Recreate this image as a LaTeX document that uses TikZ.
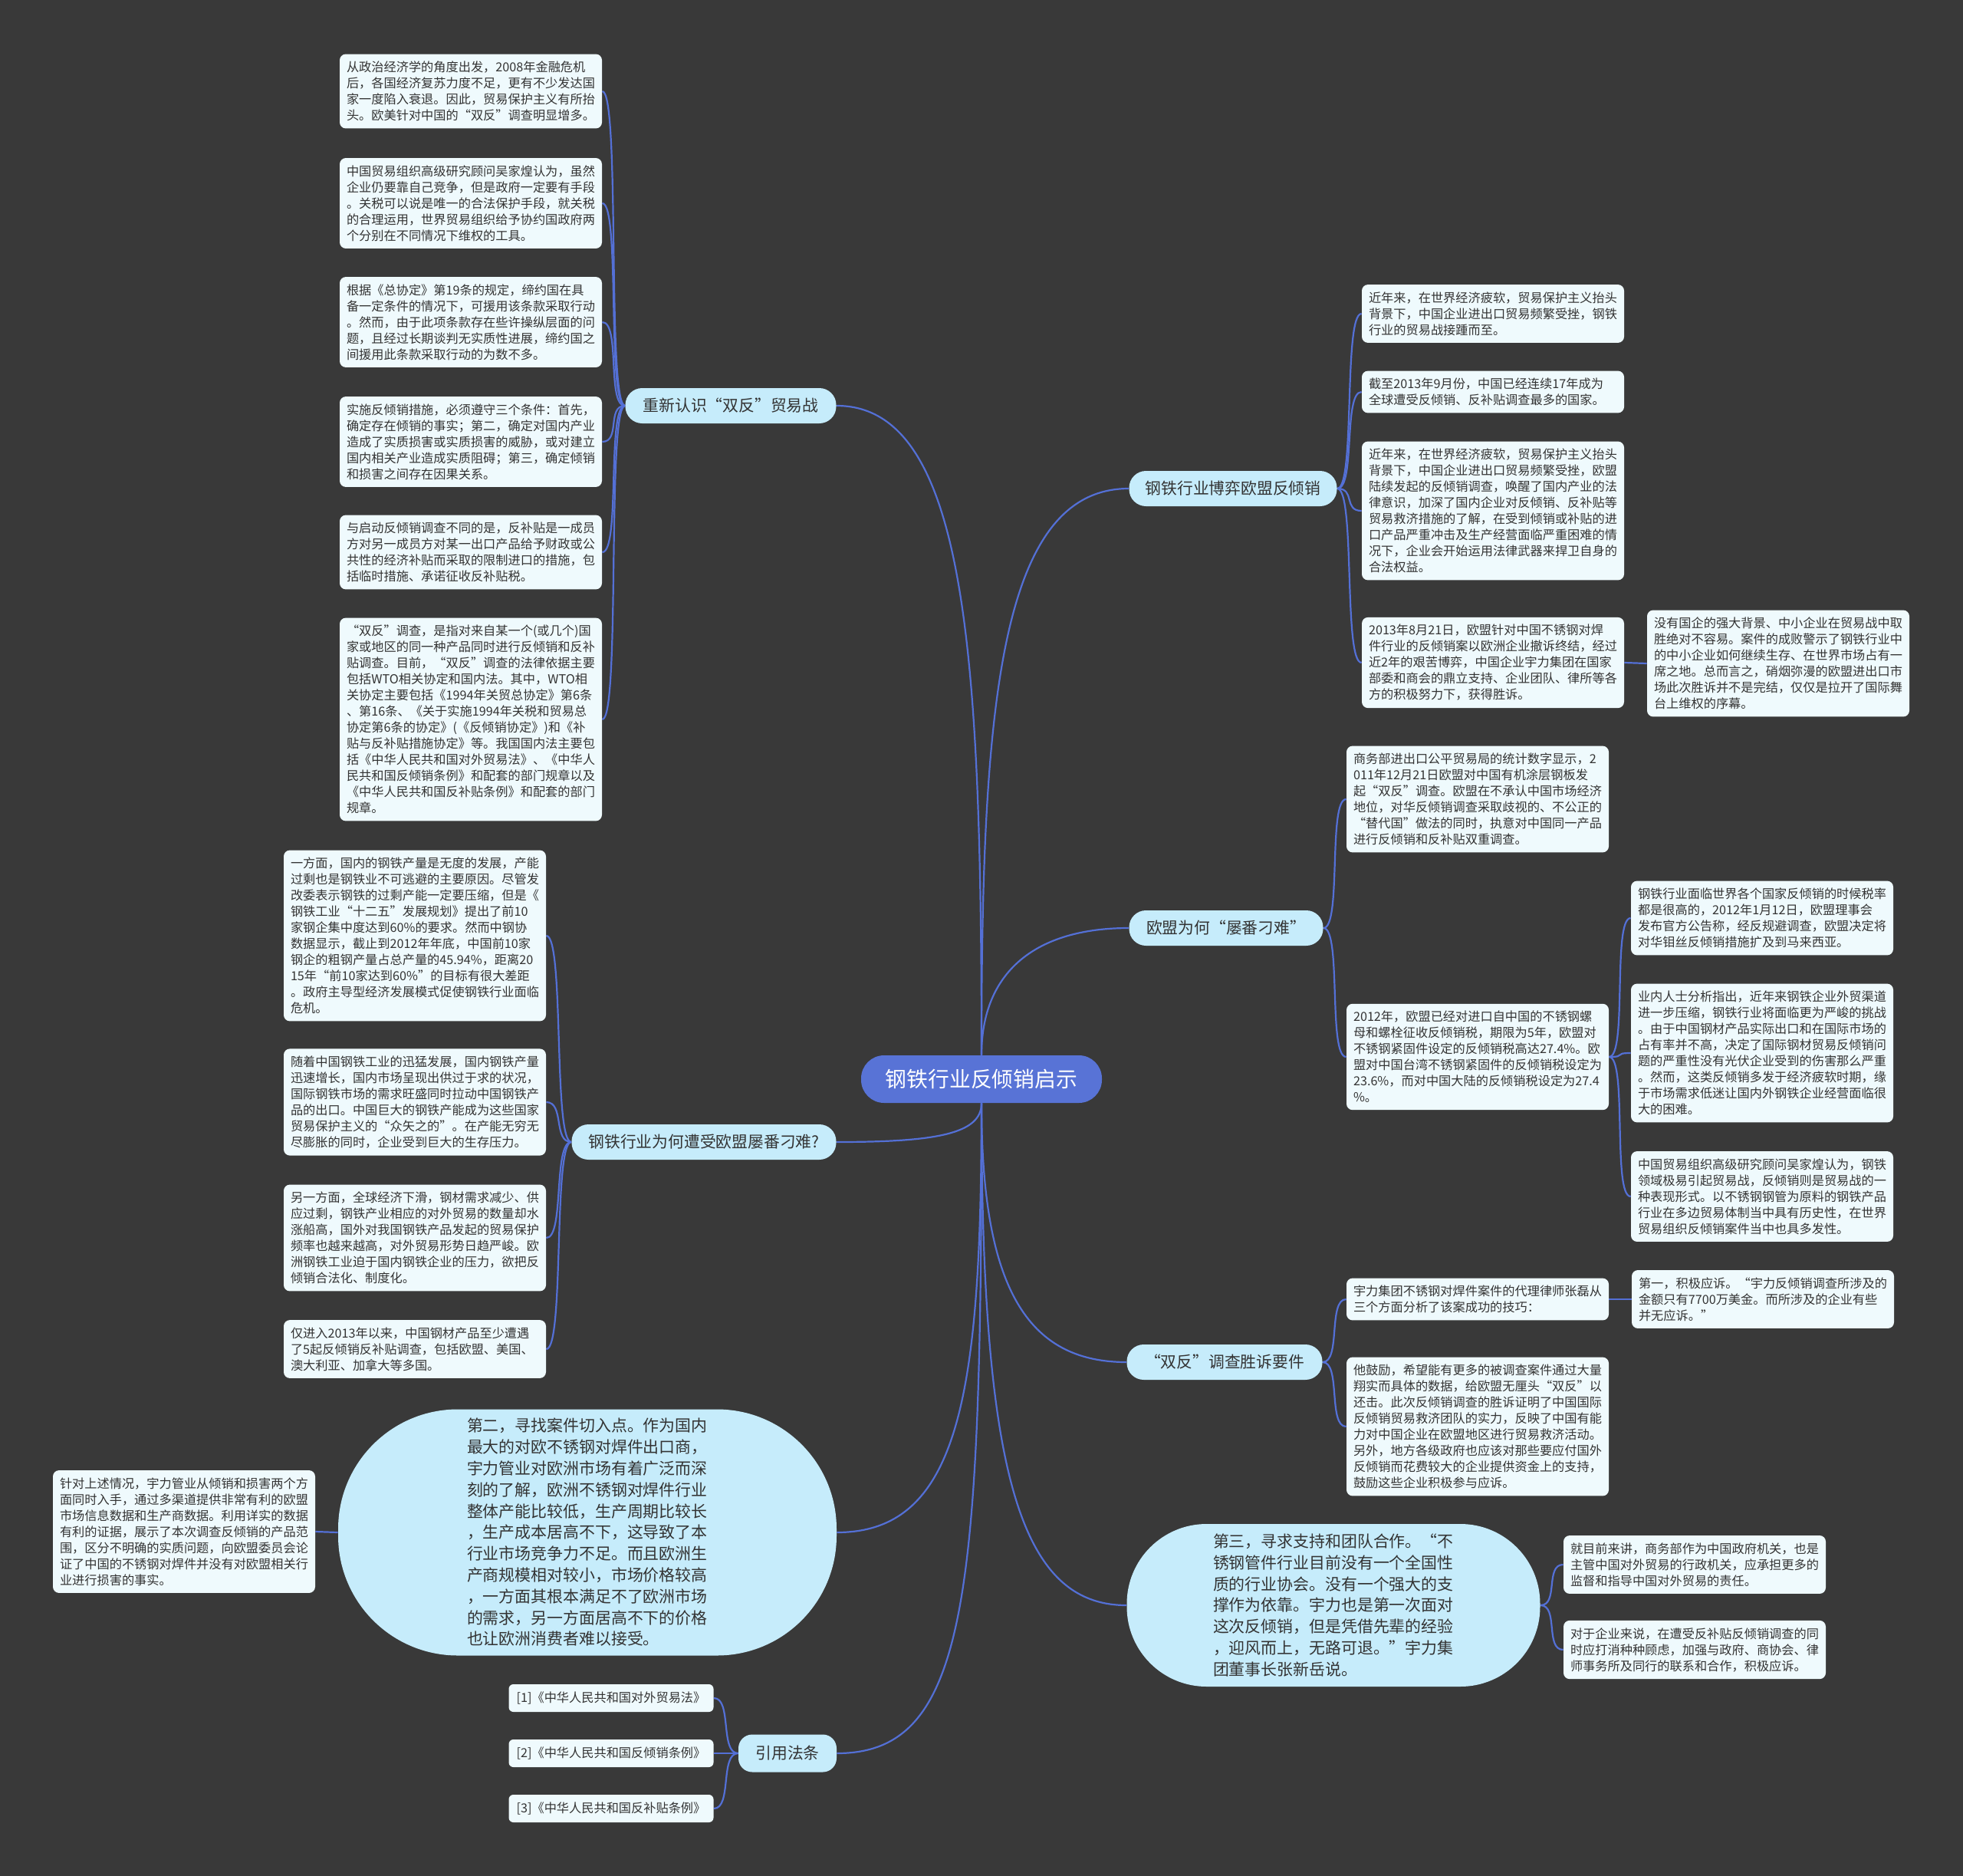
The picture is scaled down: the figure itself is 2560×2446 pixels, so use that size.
\documentclass[tikz,border=0pt]{standalone}
\usepackage{fontspec}
\setmainfont{Noto Sans CJK SC}
\usetikzlibrary{backgrounds}
\definecolor{bgcol}{HTML}{393939}
\definecolor{conncol}{HTML}{5470D6}
\definecolor{rootcol}{HTML}{5873D6}
\definecolor{topiccol}{HTML}{C6ECFB}
\definecolor{leafcol}{HTML}{EFFAFD}
\definecolor{txtcol}{HTML}{333333}

\begin{document}
\begin{tikzpicture}[x=0.5pt, y=-0.5pt,
    conn/.style={draw=conncol, line width=1.1pt},
    rootbox/.style={fill=rootcol, text=white, rounded corners=15pt, minimum width=157pt, minimum height=31pt, font=\fontsize{13.9}{16}\selectfont},
    topicbox/.style={fill=topiccol, text=txtcol, rounded corners=11pt, minimum height=23pt, inner xsep=0pt, font=\fontsize{10.4}{13}\selectfont},
    bubblebox/.style={fill=topiccol, text=txtcol, align=left, inner sep=0pt, font=\fontsize{10.45}{13.9}\selectfont},
    leafbox/.style={fill=leafcol, text=txtcol, rounded corners=4pt, text width=162pt, align=left, inner xsep=4.5pt, inner ysep=4.7pt, font=\fontsize{8.1}{10.5}\selectfont},
    refbox/.style={fill=leafcol, text=txtcol, rounded corners=3pt, minimum width=133.5pt, minimum height=18pt, inner xsep=0pt, font=\fontsize{8.1}{10.5}\selectfont}]
    \useasboundingbox (0,0) rectangle (2560,2446);
    % 背景
    \begin{pgfonlayer}{background}
        \fill[bgcol] (0,0) rectangle (2560,2446);
    \end{pgfonlayer}

    % 中心主题
    \node[rootbox] (root) at (1280,1407) {钢铁行业反倾销启示};

    % 分支主题
    \node[topicbox, minimum width=137.5pt] (t1) at (953,529) {重新认识“双反”贸易战};
    \node[topicbox, minimum width=135.5pt] (t2) at (1608,637) {钢铁行业博弈欧盟反倾销};
    \node[topicbox, minimum width=126.5pt] (t3) at (1599,1210) {欧盟为何“屡番刁难”};
    \node[topicbox, minimum width=172.5pt] (t4) at (918,1489) {钢铁行业为何遭受欧盟屡番刁难?};
    \node[bubblebox, text width=157pt, minimum width=325pt, minimum height=160.5pt, rounded corners=78pt] (t5) at (766,1998)
        {第二，寻找案件切入点。作为国内\\最大的对欧不锈钢对焊件出口商，\\宇力管业对欧洲市场有着广泛而深\\刻的了解，欧洲不锈钢对焊件行业\\整体产能比较低，生产周期比较长\\，生产成本居高不下，这导致了本\\行业市场竞争力不足。而且欧洲生\\产商规模相对较小，市场价格较高\\，一方面其根本满足不了欧洲市场\\的需求，另一方面居高不下的价格\\也让欧洲消费者难以接受。};
    \node[topicbox, minimum width=127.5pt] (t6) at (1597,1776) {“双反”调查胜诉要件};
    \node[bubblebox, text width=157pt, minimum width=269.5pt, minimum height=106pt, rounded corners=52pt] (t7) at (1739,2093)
        {第三，寻求支持和团队合作。“不\\锈钢管件行业目前没有一个全国性\\质的行业协会。没有一个强大的支\\撑作为依靠。宇力也是第一次面对\\这次反倾销，但是凭借先辈的经验\\，迎风而上，无路可退。”宇力集\\团董事长张新岳说。};
    \node[topicbox, minimum width=64pt, minimum height=24.5pt, rounded corners=9pt] (t8) at (1027,2286) {引用法条};

    % 重新认识“双反”贸易战
    \node[leafbox] (t1a) at (614,119) {从政治经济学的角度出发，2008年金融危机\\后，各国经济复苏力度不足，更有不少发达国\\家一度陷入衰退。因此，贸易保护主义有所抬\\头。欧美针对中国的“双反”调查明显增多。};
    \node[leafbox] (t1b) at (614,265) {中国贸易组织高级研究顾问吴家煌认为，虽然\\企业仍要靠自己竞争，但是政府一定要有手段\\。关税可以说是唯一的合法保护手段，就关税\\的合理运用，世界贸易组织给予协约国政府两\\个分别在不同情况下维权的工具。};
    \node[leafbox] (t1c) at (614,420) {根据《总协定》第19条的规定，缔约国在具\\备一定条件的情况下，可援用该条款采取行动\\。然而，由于此项条款存在些许操纵层面的问\\题，且经过长期谈判无实质性进展，缔约国之\\间援用此条款采取行动的为数不多。};
    \node[leafbox] (t1d) at (614,576) {实施反倾销措施，必须遵守三个条件：首先，\\确定存在倾销的事实；第二，确定对国内产业\\造成了实质损害或实质损害的威胁，或对建立\\国内相关产业造成实质阻碍；第三，确定倾销\\和损害之间存在因果关系。};
    \node[leafbox] (t1e) at (614,720) {与启动反倾销调查不同的是，反补贴是一成员\\方对另一成员方对某一出口产品给予财政或公\\共性的经济补贴而采取的限制进口的措施，包\\括临时措施、承诺征收反补贴税。};
    \node[leafbox] (t1f) at (614,938) {“双反”调查，是指对来自某一个(或几个)国\\家或地区的同一种产品同时进行反倾销和反补\\贴调查。目前，“双反”调查的法律依据主要\\包括WTO相关协定和国内法。其中，WTO相\\关协定主要包括《1994年关贸总协定》第6条\\、第16条、《关于实施1994年关税和贸易总\\协定第6条的协定》(《反倾销协定》)和《补\\贴与反补贴措施协定》等。我国国内法主要包\\括《中华人民共和国对外贸易法》、《中华人\\民共和国反倾销条例》和配套的部门规章以及\\《中华人民共和国反补贴条例》和配套的部门\\规章。};

    % 钢铁行业博弈欧盟反倾销
    \node[leafbox] (t2a) at (1947,409) {近年来，在世界经济疲软，贸易保护主义抬头\\背景下，中国企业进出口贸易频繁受挫，钢铁\\行业的贸易战接踵而至。};
    \node[leafbox] (t2b) at (1947,511) {截至2013年9月份，中国已经连续17年成为\\全球遭受反倾销、反补贴调查最多的国家。};
    \node[leafbox] (t2c) at (1947,666) {近年来，在世界经济疲软，贸易保护主义抬头\\背景下，中国企业进出口贸易频繁受挫，欧盟\\陆续发起的反倾销调查，唤醒了国内产业的法\\律意识，加深了国内企业对反倾销、反补贴等\\贸易救济措施的了解，在受到倾销或补贴的进\\口产品严重冲击及生产经营面临严重困难的情\\况下，企业会开始运用法律武器来捍卫自身的\\合法权益。};
    \node[leafbox] (t2d) at (1947,864) {2013年8月21日，欧盟针对中国不锈钢对焊\\件行业的反倾销案以欧洲企业撤诉终结，经过\\近2年的艰苦博弈，中国企业宇力集团在国家\\部委和商会的鼎立支持、企业团队、律所等各\\方的积极努力下，获得胜诉。};
    \node[leafbox] (t2e) at (2319,865) {没有国企的强大背景、中小企业在贸易战中取\\胜绝对不容易。案件的成败警示了钢铁行业中\\的中小企业如何继续生存、在世界市场占有一\\席之地。总而言之，硝烟弥漫的欧盟进出口市\\场此次胜诉并不是完结，仅仅是拉开了国际舞\\台上维权的序幕。};

    % 欧盟为何“屡番刁难”
    \node[leafbox] (t3a) at (1927,1042) {商务部进出口公平贸易局的统计数字显示，2\\011年12月21日欧盟对中国有机涂层钢板发\\起“双反”调查。欧盟在不承认中国市场经济\\地位，对华反倾销调查采取歧视的、不公正的\\“替代国”做法的同时，执意对中国同一产品\\进行反倾销和反补贴双重调查。};
    \node[leafbox] (t3b) at (1927,1378) {2012年，欧盟已经对进口自中国的不锈钢螺\\母和螺栓征收反倾销税，期限为5年，欧盟对\\不锈钢紧固件设定的反倾销税高达27.4\%。欧\\盟对中国台湾不锈钢紧固件的反倾销税设定为\\23.6\%，而对中国大陆的反倾销税设定为27.4\\\%。};
    \node[leafbox] (t3c) at (2298,1197) {钢铁行业面临世界各个国家反倾销的时候税率\\都是很高的，2012年1月12日，欧盟理事会\\发布官方公告称，经反规避调查，欧盟决定将\\对华钼丝反倾销措施扩及到马来西亚。};
    \node[leafbox] (t3d) at (2298,1373) {业内人士分析指出，近年来钢铁企业外贸渠道\\进一步压缩，钢铁行业将面临更为严峻的挑战\\。由于中国钢材产品实际出口和在国际市场的\\占有率并不高，决定了国际钢材贸易反倾销问\\题的严重性没有光伏企业受到的伤害那么严重\\。然而，这类反倾销多发于经济疲软时期，缘\\于市场需求低迷让国内外钢铁企业经营面临很\\大的困难。};
    \node[leafbox] (t3e) at (2298,1560) {中国贸易组织高级研究顾问吴家煌认为，钢铁\\领域极易引起贸易战，反倾销则是贸易战的一\\种表现形式。以不锈钢钢管为原料的钢铁产品\\行业在多边贸易体制当中具有历史性，在世界\\贸易组织反倾销案件当中也具多发性。};

    % 钢铁行业为何遭受欧盟屡番刁难?
    \node[leafbox] (t4a) at (541,1220) {一方面，国内的钢铁产量是无度的发展，产能\\过剩也是钢铁业不可逃避的主要原因。尽管发\\改委表示钢铁的过剩产能一定要压缩，但是《\\钢铁工业“十二五”发展规划》提出了前10\\家钢企集中度达到60\%的要求。然而中钢协\\数据显示，截止到2012年年底，中国前10家\\钢企的粗钢产量占总产量的45.94\%，距离20\\15年“前10家达到60\%”的目标有很大差距\\。政府主导型经济发展模式促使钢铁行业面临\\危机。};
    \node[leafbox] (t4b) at (541,1437) {随着中国钢铁工业的迅猛发展，国内钢铁产量\\迅速增长，国内市场呈现出供过于求的状况，\\国际钢铁市场的需求旺盛同时拉动中国钢铁产\\品的出口。中国巨大的钢铁产能成为这些国家\\贸易保护主义的“众矢之的”。在产能无穷无\\尽膨胀的同时，企业受到巨大的生存压力。};
    \node[leafbox] (t4c) at (541,1614) {另一方面，全球经济下滑，钢材需求减少、供\\应过剩，钢铁产业相应的对外贸易的数量却水\\涨船高，国外对我国钢铁产品发起的贸易保护\\频率也越来越高，对外贸易形势日趋严峻。欧\\洲钢铁工业迫于国内钢铁企业的压力，欲把反\\倾销合法化、制度化。};
    \node[leafbox] (t4d) at (541,1759) {仅进入2013年以来，中国钢材产品至少遭遇\\了5起反倾销反补贴调查，包括欧盟、美国、\\澳大利亚、加拿大等多国。};

    % 第二，寻找案件切入点
    \node[leafbox] (t5a) at (240,1997) {针对上述情况，宇力管业从倾销和损害两个方\\面同时入手，通过多渠道提供非常有利的欧盟\\市场信息数据和生产商数据。利用详实的数据\\有利的证据，展示了本次调查反倾销的产品范\\围，区分不明确的实质问题，向欧盟委员会论\\证了中国的不锈钢对焊件并没有对欧盟相关行\\业进行损害的事实。};

    % “双反”调查胜诉要件
    \node[leafbox] (t6a) at (1927,1694) {宇力集团不锈钢对焊件案件的代理律师张磊从\\三个方面分析了该案成功的技巧：};
    \node[leafbox] (t6c) at (2299,1694) {第一，积极应诉。“宇力反倾销调查所涉及的\\金额只有7700万美金。而所涉及的企业有些\\并无应诉。”};
    \node[leafbox] (t6b) at (1927,1860) {他鼓励，希望能有更多的被调查案件通过大量\\翔实而具体的数据，给欧盟无厘头“双反”以\\还击。此次反倾销调查的胜诉证明了中国国际\\反倾销贸易救济团队的实力，反映了中国有能\\力对中国企业在欧盟地区进行贸易救济活动。\\另外，地方各级政府也应该对那些要应付国外\\反倾销而花费较大的企业提供资金上的支持，\\鼓励这些企业积极参与应诉。};

    % 第三，寻求支持和团队合作
    \node[leafbox] (t7a) at (2210,2040) {就目前来讲，商务部作为中国政府机关，也是\\主管中国对外贸易的行政机关，应承担更多的\\监督和指导中国对外贸易的责任。};
    \node[leafbox] (t7b) at (2210,2151) {对于企业来说，在遭受反补贴反倾销调查的同\\时应打消种种顾虑，加强与政府、商协会、律\\师事务所及同行的联系和合作，积极应诉。};

    % 引用法条
    \node[refbox] (r1) at (797,2214) {[1]《中华人民共和国对外贸易法》};
    \node[refbox] (r2) at (797,2286) {[2]《中华人民共和国反倾销条例》};
    \node[refbox] (r3) at (797,2358) {[3]《中华人民共和国反补贴条例》};

    % 连线
    \begin{pgfonlayer}{background}
        \draw[conn] (root.north) .. controls +(0,-520) and +(170,0) .. (t1.east);
        \draw[conn] (root.north) .. controls +(0,-450) and +(-170,0) .. (t2.west);
        \draw[conn] (root.north) .. controls +(0,-110) and +(-120,0) .. (t3.west);
        \draw[conn] (root.south) .. controls +(0,40) and +(130,0) .. (t4.east);
        \draw[conn] (root.south) .. controls +(0,380) and +(160,0) .. (t5.east);
        \draw[conn] (root.south) .. controls +(0,240) and +(-130,0) .. (t6.west);
        \draw[conn] (root.south) .. controls +(0,480) and +(-140,0) .. (t7.west);
        \draw[conn] (root.south) .. controls +(0,650) and +(170,0) .. (t8.east);

        \foreach \c in {t1a,t1b,t1c,t1d,t1e,t1f}
            \draw[conn] (t1.west) .. controls +(-24,0) and +(24,0) .. (\c.east);
        \foreach \c in {t2a,t2b,t2c,t2d}
            \draw[conn] (t2.east) .. controls +(24,0) and +(-24,0) .. (\c.west);
        \draw[conn] (t2d.east) -- (t2e.west);
        \foreach \c in {t3a,t3b}
            \draw[conn] (t3.east) .. controls +(24,0) and +(-24,0) .. (\c.west);
        \foreach \c in {t3c,t3d,t3e}
            \draw[conn] (t3b.east) .. controls +(24,0) and +(-24,0) .. (\c.west);
        \foreach \c in {t4a,t4b,t4c,t4d}
            \draw[conn] (t4.west) .. controls +(-24,0) and +(24,0) .. (\c.east);
        \draw[conn] (t5.west) -- (t5a.east);
        \foreach \c in {t6a,t6b}
            \draw[conn] (t6.east) .. controls +(24,0) and +(-24,0) .. (\c.west);
        \draw[conn] (t6a.east) -- (t6c.west);
        \foreach \c in {t7a,t7b}
            \draw[conn] (t7.east) .. controls +(24,0) and +(-24,0) .. (\c.west);
        \foreach \c in {r1,r2,r3}
            \draw[conn] (t8.west) .. controls +(-24,0) and +(24,0) .. (\c.east);
    \end{pgfonlayer}
\end{tikzpicture}
\end{document}
